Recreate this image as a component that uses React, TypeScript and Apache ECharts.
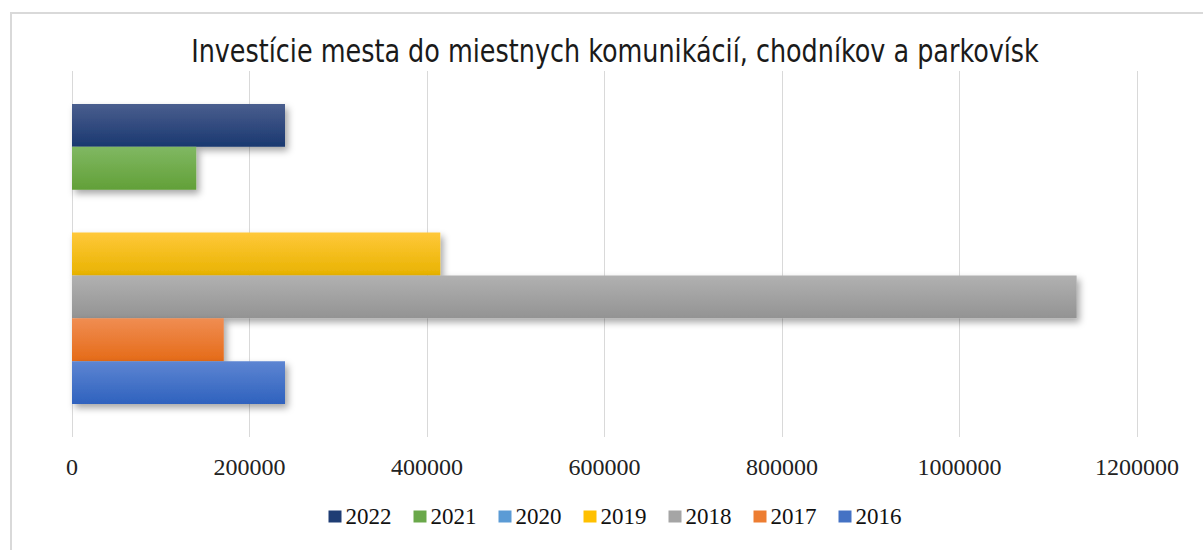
import React, { useEffect, useRef } from "react";
import * as echarts from "echarts";

const titleText = "Investície mesta do miestnych komunikácií, chodníkov a parkovísk";
const categories = [""];
const years = ["2022", "2021", "2020", "2019", "2018", "2017", "2016"];
const values2022 = [240000];
const values2021 = [140000];
const values2020 = [0];
const values2019 = [415000];
const values2018 = [1132000];
const values2017 = [171000];
const values2016 = [240000];
const seriesValues = [values2022, values2021, values2020, values2019, values2018, values2017, values2016];
const legendColors = ["#1f3d74", "#6aa84a", "#5b9bd5", "#ffc000", "#a5a5a5", "#ed7d31", "#4472c4"];
const gradTop = ["#4a5e8e", "#80b862", "#7fb1df", "#ffc83a", "#b1b1b1", "#f08d52", "#5d85d2"];
const gradBottom = ["#1a3870", "#62a038", "#4a8ac8", "#e8b300", "#939393", "#e56b18", "#2f62be"];
const xTicks = { min: 0, max: 1200000, interval: 200000 };

export default function App() {
  const ref = useRef<HTMLDivElement>(null);
  useEffect(() => {
    document.body.style.margin = "0";
    document.body.style.overflow = "hidden";
    const chart = echarts.init(ref.current!, undefined, { renderer: "svg" });
    const serif = "'Liberation Serif', 'Times New Roman', serif";
    chart.setOption({
      animation: false,
      backgroundColor: "#ffffff",
      graphic: [
        {
          type: "rect",
          shape: { x: 11, y: 13, width: 1400, height: 700 },
          style: { fill: "none", stroke: "#d9d9d9", lineWidth: 2 },
          silent: true,
          z: -1,
        },
        {
          type: "text",
          x: 615,
          y: 51,
          scaleX: 0.885,
          style: {
            text: titleText,
            align: "center",
            verticalAlign: "middle",
            fontFamily: "'DejaVu Sans Condensed', 'Noto Sans', sans-serif",
            fontWeight: "normal",
            fontSize: 32,
            fill: "#1a1a1a",
          },
          silent: true,
        },
      ],
      legend: {
        data: years.map((y, i) => ({ name: y, itemStyle: { color: legendColors[i] } })),
        left: "center",
        top: 500,
        itemWidth: 13,
        itemHeight: 12,
        itemGap: 22,
        icon: "rect",
        textStyle: { fontFamily: serif, fontSize: 23, color: "#111", padding: [0, 0, 0, -1] },
      },
      grid: { left: 72, right: 93, top: 71, bottom: 113, containLabel: false },
      xAxis: {
        type: "value",
        min: xTicks.min,
        max: xTicks.max,
        interval: xTicks.interval,
        axisLine: { show: false },
        axisTick: { show: false },
        splitLine: { show: true, lineStyle: { color: "#d9d9d9", width: 1 } },
        axisLabel: {
          fontFamily: serif,
          fontSize: 24,
          color: "#222",
          margin: 18,
          formatter: (v: number) => String(v),
        },
      },
      yAxis: {
        type: "category",
        data: categories,
        axisLine: { show: false },
        axisTick: { show: false },
        axisLabel: { show: false },
        splitLine: { show: false },
      },
      series: years.map((y, i) => ({
        name: y,
        type: "bar",
        data: seriesValues[i],
        barGap: "0%",
        barCategoryGap: "18%",
        itemStyle: {
          color: new echarts.graphic.LinearGradient(0, 0, 0, 1, [
            { offset: 0, color: gradTop[i] },
            { offset: 1, color: gradBottom[i] },
          ]),
          shadowBlur: 7,
          shadowOffsetX: 3,
          shadowOffsetY: 4,
          shadowColor: "rgba(0,0,0,0.35)",
        },
      })),
    });
    return () => chart.dispose();
  }, []);
  return (
    <div style={{ position: "absolute", left: 0, top: 0, width: 1203, height: 550, overflow: "hidden" }}>
      <div ref={ref} style={{ width: 1230, height: 550 }} />
    </div>
  );
}
